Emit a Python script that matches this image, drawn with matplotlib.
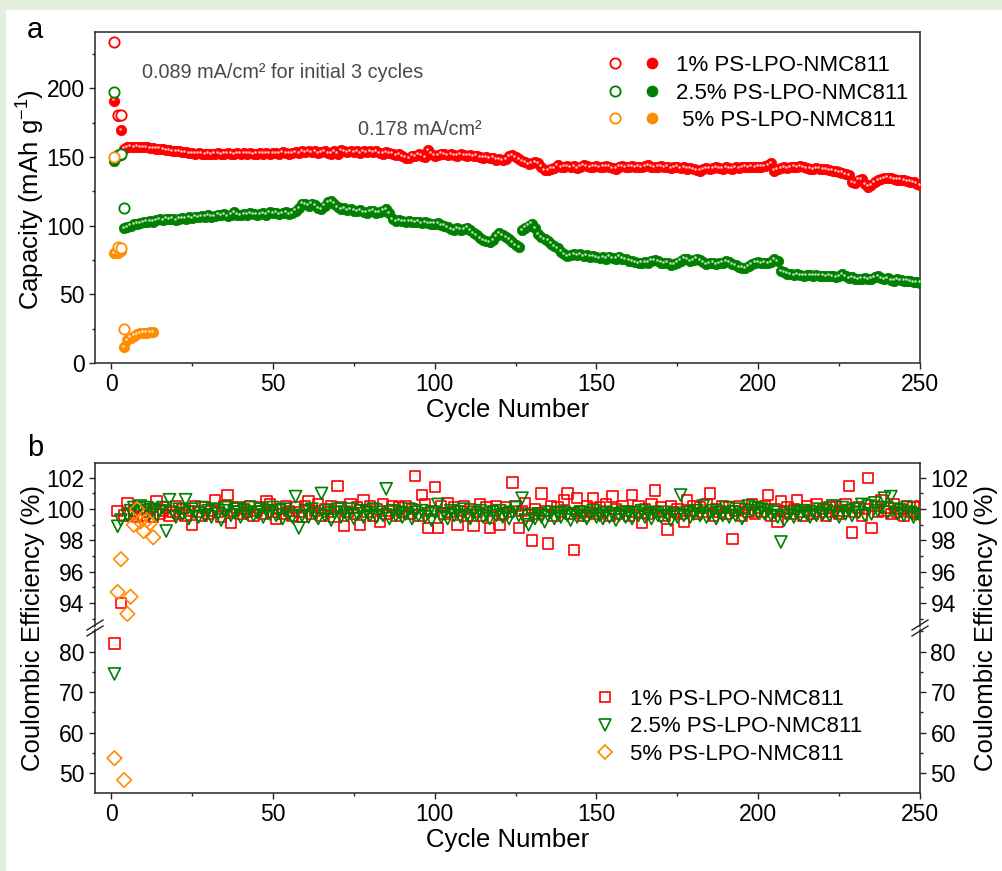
import numpy as np
import matplotlib
matplotlib.use('Agg')
import matplotlib.pyplot as plt
from matplotlib.lines import Line2D
from matplotlib.patches import Rectangle, Polygon
from matplotlib.legend_handler import HandlerTuple
from matplotlib.ticker import MultipleLocator
from matplotlib.transforms import offset_copy

plt.rcParams['font.family'] = ['Liberation Sans', 'DejaVu Sans']
plt.rcParams['mathtext.fontset'] = 'custom'
plt.rcParams['mathtext.rm'] = 'Liberation Sans'
plt.rcParams['mathtext.default'] = 'regular'

labels = ['1% PS-LPO-NMC811', '2.5% PS-LPO-NMC811', ' 5% PS-LPO-NMC811']
colors = ['#ff0000', '#008000', '#ff8c00']

# ---- capacity (mAh/g) ----
# charge (open circles) only for the first cycles, later ones sit under the discharge points
red_charge = [234, 180.5, 180.5]
green_charge = [197, 151.5, 152, 113]
orange_charge = [150, 84.5, 84, 24.5]

red_discharge = [
    191, 180, 169.5, 156, 157, 157.5, 157, 157.5, 157, 157,
    157, 156.5, 156.5, 156, 156, 155.5, 155, 155, 154.5, 154,
    154, 153.5, 153.5, 153, 153, 152.5, 153, 152.5, 152, 152.5,
    152, 152.5, 153, 152, 152.5, 153, 152.5, 152, 153, 152.5,
    153, 152.5, 153, 152, 152.5, 153, 152.5, 153, 152.5, 153,
    153, 152.5, 153.5, 153, 152.5, 153, 153.5, 153, 154, 153.5,
    154.5, 153.5, 154, 153, 153.5, 154, 153, 152.5, 154, 152.5,
    155, 154, 153.5, 154.5, 153.5, 154, 153, 154, 153.5, 154,
    153.5, 154, 153, 152.5, 153.5, 153, 152.5, 151.5, 152, 150.5,
    149.5, 149, 151, 150.5, 152, 151, 150, 155, 152.5, 151,
    151.5, 152.5, 152, 151.5, 152, 151.5, 151, 152, 151.5, 151,
    151.5, 150.5, 151, 150, 149.5, 150, 149, 149.5, 148, 148.5,
    147.5, 148.5, 150.5, 151.5, 150, 148.5, 147, 146, 145, 145.5,
    146, 145.5, 143, 140.5, 140.5, 141.5, 142, 144, 142.5, 143,
    143.5, 142.5, 143.5, 142, 143, 144, 143.5, 142.5, 143, 143.5,
    142.5, 143, 143.5, 143, 142, 141.5, 143, 143.5, 142.5, 143,
    143.5, 142.5, 143, 142.5, 143.5, 144, 143, 142.5, 143, 143.5,
    142.5, 143, 142, 142.5, 143, 142, 142.5, 141.5, 142, 141,
    140.5, 140, 141, 142, 141.5, 142, 142.5, 142, 141.5, 142.5,
    142, 141.5, 142.5, 142, 142.5, 143, 142.5, 143, 142.5, 143,
    143, 143.5, 144, 145.5, 140, 141, 142, 142.5, 142, 142.5,
    143, 142.5, 143.5, 142.5, 142, 141.5, 141, 142, 141.5, 141,
    141, 140.5, 140, 139.5, 139, 138.5, 137.5, 137, 131.5, 131,
    133.5, 134, 130, 128.5, 129.5, 131.5, 133, 134, 134.5, 135,
    134.5, 134, 133.5, 133.5, 133, 132.5, 132, 131.5, 130.5, 129.5,
]

green_discharge = [
    147, 151, 151.5, 98, 99, 100, 101, 101.5, 102, 102.5,
    103, 103.5, 103, 104, 104.5, 104, 105, 104.5, 105, 104,
    105, 105.5, 105, 106, 105.5, 106.5, 106, 107, 106.5, 107.5,
    106.5, 107, 108, 107.5, 108.5, 107, 108, 110, 108, 107.5,
    108.5, 108, 109, 108.5, 108, 108.5, 109, 108, 110, 109,
    109.5, 108.5, 109, 110, 108.5, 109, 111, 113, 116, 115.5,
    114.5, 116, 115, 113, 112, 114.5, 117, 118, 116, 113.5,
    112, 112.5, 111.5, 112, 111, 110.5, 111.5, 110, 109.5, 110.5,
    111, 109.5, 110, 111, 112, 109, 104.5, 103.5, 104, 103.5,
    103, 103.5, 103, 102.5, 103, 102, 102.5, 102, 101.5, 101.5,
    102, 100.5, 100, 99, 97.5, 96.5, 98, 97, 97.5, 98.5,
    96.5, 94.5, 93, 91, 89.5, 88.5, 88, 89.5, 92.5, 94.5,
    93, 91.5, 90, 88, 86, 84.5, 96.5, 98.5, 100, 101.5,
    98, 94, 91.5, 90, 89, 87, 85, 83.5, 81, 79,
    78, 78.5, 79.5, 78.5, 79, 78, 78.5, 77.5, 78, 77,
    76.5, 77, 76, 77.5, 76.5, 76, 77.5, 76, 75.5, 74.5,
    74, 73.5, 72.5, 73, 73.5, 73, 74.5, 75, 74, 73,
    72.5, 73, 71.5, 72, 73, 74.5, 76, 75.5, 74, 75,
    76, 75, 73.5, 72, 72.5, 73, 72, 72.5, 73, 74,
    73.5, 72, 71, 70, 69.5, 69, 70.5, 72, 73, 73.5,
    72.5, 73, 72.5, 73.5, 75.5, 74, 67, 66, 65, 64.5,
    64, 64.5, 64, 63.5, 64, 64, 63.5, 64, 63.5, 63.5,
    63, 63.5, 63, 62.5, 63, 64.5, 63, 62, 62.5, 61.5,
    61, 61.5, 62, 61, 61.5, 62.5, 63, 62, 61, 62,
    60.5, 60, 61, 60.5, 60, 60, 59.5, 59, 59, 58.5,
]

orange_discharge = [80, 80, 81.5, 11.5, 16.5, 18.5, 20, 21, 21.5, 22, 22, 22.5, 22.5]

# ---- coulombic efficiency (%) ----
red_ce = [
    82.0, 99.9, 94.0, 99.6, 100.4, 99.7, 99.9, 99.5, 100.1, 99.6,
    99.8, 100.0, 99.5, 100.5, 99.7, 99.9, 100.1, 99.6, 99.8, 100.2,
    99.7, 100.0, 99.6, 99.9, 99.0, 100.2, 99.8, 99.6, 100.1, 99.7,
    99.9, 100.6, 99.8, 99.5, 100.2, 100.9, 99.1, 99.9, 100.1, 99.7,
    100.0, 99.8, 100.2, 99.6, 99.9, 100.1, 99.7, 100.5, 100.3, 99.8,
    99.4, 100.0, 99.7, 100.2, 99.9, 99.6, 100.1, 99.8, 99.5, 100.2,
    100.5, 99.7, 99.9, 100.3, 99.6, 100.0, 99.8, 100.2, 99.5, 101.5,
    100.1, 98.9, 99.8, 100.3, 99.7, 100.1, 99.0, 100.6, 99.8, 100.2,
    99.6, 100.0, 99.2, 100.3, 99.7, 99.9, 100.2, 99.6, 100.1, 99.8,
    100.2, 99.7, 100.0, 102.1, 99.6, 100.9, 100.3, 98.8, 99.9, 101.4,
    98.8, 100.2, 99.7, 100.4, 99.8, 100.1, 99.0, 99.9, 100.2, 99.6,
    100.0, 98.9, 99.8, 100.3, 99.6, 100.1, 98.8, 99.9, 100.2, 99.0,
    99.7, 100.1, 99.8, 101.7, 100.2, 98.8, 99.9, 100.4, 99.6, 98.0,
    100.0, 99.7, 101.0, 99.9, 97.8, 100.2, 99.6, 100.1, 99.8, 100.6,
    101.0, 99.7, 97.4, 100.7, 99.9, 99.6, 100.2, 99.8, 100.7, 99.7,
    100.1, 99.8, 100.3, 99.6, 100.8, 100.0, 99.7, 100.2, 99.9, 99.6,
    100.9, 99.8, 100.2, 99.1, 100.0, 99.7, 100.3, 101.2, 99.8, 100.1,
    99.6, 98.7, 100.2, 99.8, 100.0, 99.7, 99.2, 100.6, 99.9, 100.2,
    99.7, 100.1, 99.8, 100.3, 101.0, 99.6, 100.0, 99.8, 100.2, 99.7,
    100.1, 98.1, 99.9, 100.2, 99.6, 100.0, 99.8, 100.3, 99.7, 100.1,
    99.8, 100.2, 100.9, 99.6, 100.0, 99.2, 100.5, 99.8, 100.1, 99.7,
    100.0, 100.6, 99.8, 99.6, 100.2, 99.9, 99.7, 100.3, 99.8, 100.0,
    99.6, 100.1, 99.8, 100.2, 99.7, 99.9, 100.3, 101.5, 98.5, 99.8,
    100.1, 99.6, 100.0, 102.0, 98.8, 100.2, 99.8, 100.6, 99.9, 100.1,
    99.7, 100.3, 99.8, 100.0, 99.6, 100.2, 99.8, 100.1, 99.7, 100.2,
]

# cycle 4 of the 2.5% cell falls inside the axis break and is not shown
green_ce = [
    74.5, 98.9, 99.3, np.nan, 99.6, 99.9, 100.1, 99.8, 100.2, 99.9,
    100.1, 99.7, 100.0, 99.6, 99.9, 100.1, 98.6, 100.6, 99.8, 99.5,
    100.0, 99.7, 100.6, 99.4, 100.0, 99.8, 99.5, 100.1, 99.6, 99.9,
    99.5, 100.0, 99.7, 99.3, 99.9, 100.1, 99.6, 99.8, 100.0, 99.5,
    99.9, 99.7, 100.1, 99.6, 99.8, 100.0, 99.5, 99.9, 99.7, 100.1,
    99.6, 99.9, 99.4, 100.0, 99.7, 99.5, 100.8, 98.8, 99.6, 99.9,
    99.5, 100.0, 99.7, 99.4, 101.0, 99.6, 99.9, 99.3, 99.8, 100.0,
    99.5, 99.8, 99.6, 100.0, 99.4, 99.7, 99.9, 99.5, 99.8, 99.6,
    100.0, 99.5, 99.8, 99.6, 101.3, 99.4, 99.9, 99.6, 99.8, 99.5,
    99.7, 100.0, 99.4, 99.8, 99.6, 99.9, 99.5, 99.7, 99.3, 99.8,
    100.3, 99.5, 99.7, 99.4, 99.9, 99.6, 99.8, 99.5, 100.0, 99.6,
    99.4, 99.8, 99.6, 99.9, 99.5, 99.7, 99.4, 99.8, 99.6, 99.9,
    99.5, 99.7, 99.4, 99.8, 100.1, 99.6, 100.7, 99.3, 99.0, 99.6,
    99.4, 99.7, 99.5, 99.2, 99.6, 99.8, 99.4, 99.7, 99.5, 99.8,
    99.6, 99.3, 99.7, 99.5, 99.8, 99.6, 99.4, 99.7, 99.9, 99.5,
    99.6, 99.4, 99.8, 99.5, 99.7, 99.3, 99.6, 99.8, 99.5, 99.7,
    99.4, 99.8, 99.6, 99.9, 99.5, 99.7, 99.4, 99.8, 99.6, 99.5,
    99.8, 99.6, 99.3, 99.7, 99.5, 100.9, 99.6, 99.8, 99.5, 99.7,
    99.9, 99.6, 100.2, 99.5, 99.7, 99.9, 99.4, 99.8, 99.6, 100.1,
    99.5, 99.8, 99.6, 100.0, 99.4, 99.7, 100.2, 99.9, 100.1, 99.8,
    100.0, 99.7, 99.9, 99.6, 99.8, 99.5, 97.9, 99.3, 99.6, 99.8,
    99.5, 99.8, 99.6, 99.9, 99.7, 99.5, 99.8, 99.6, 100.0, 99.7,
    99.9, 99.6, 100.2, 99.8, 99.5, 100.1, 99.7, 99.9, 99.6, 100.0,
    99.8, 100.3, 99.6, 100.2, 99.7, 100.4, 99.9, 100.1, 100.7, 99.8,
    100.8, 100.0, 99.7, 99.9, 99.6, 100.1, 99.8, 99.5, 99.7, 99.6,
]

orange_ce = [53.7, 94.7, 96.8, 48.3, 93.3, 94.4, 99.0, 100.0, 99.2, 98.6, 99.3, 99.1, 98.2]

W, H = 1003, 871
fig = plt.figure(figsize=(W / 100, H / 100), dpi=100)
fig.patch.set_facecolor('#e2efda')
fig.add_artist(Rectangle((6 / W, 0), 1, 1 - 10 / H, transform=fig.transFigure,
                         facecolor='white', edgecolor='none', zorder=-5))

TICK = 16.5
LABEL = 18.5
SPINE = '#262626'


def style_axis(ax):
    for s in ax.spines.values():
        s.set_linewidth(1.1)
        s.set_color(SPINE)
    ax.tick_params(which='major', direction='out', length=4.5, width=1.0,
                   labelsize=TICK, color=SPINE, pad=3)
    ax.tick_params(which='minor', direction='out', length=2.5, width=1.0, color=SPINE)


def cyc(vals):
    return np.arange(1, len(vals) + 1)


# ================= panel a =================
ax = fig.add_axes([95 / W, 1 - 363 / H, 825 / W, 331 / H])
style_axis(ax)

dis_sets = [red_discharge, green_discharge, orange_discharge]
chg_sets = [red_charge, green_charge, orange_charge]
shine = offset_copy(ax.transData, fig=fig, x=-1.3, y=1.3, units='dots')
for order, i in enumerate([1, 0, 2]):
    d = dis_sets[i]
    ax.scatter(cyc(d), d, s=55, color=colors[i], edgecolors=colors[i],
               linewidths=0.6, zorder=3 + order)
    ax.scatter(cyc(d), d, s=3.5, color='white', alpha=0.75, linewidths=0,
               transform=shine, zorder=3 + order)
    c = chg_sets[i]
    ax.scatter(cyc(c), c, s=55, facecolors='white', edgecolors=colors[i],
               linewidths=1.3, zorder=6 + order)

ax.set_xlim(-5, 250)
ax.set_ylim(0, 241)
ax.xaxis.set_major_locator(MultipleLocator(50))
ax.xaxis.set_minor_locator(MultipleLocator(25))
ax.yaxis.set_major_locator(MultipleLocator(50))
ax.yaxis.set_minor_locator(MultipleLocator(25))
ax.set_xlabel('Cycle Number', fontsize=LABEL, labelpad=1)
fig.text(31 / W, 1 - 200 / H, 'Capacity (mAh g$^{-1}$)', rotation=90,
         fontsize=LABEL, va='center', ha='center')

ax.text(0.057, 0.879, '0.089 mA/cm\u00b2 for initial 3 cycles', transform=ax.transAxes,
        fontsize=14.3, color='#4a4a4a', va='center')
ax.text(0.319, 0.704, '0.178 mA/cm\u00b2', transform=ax.transAxes,
        fontsize=14.3, color='#4a4a4a', va='center')

handles = []
for c in colors:
    h_open = Line2D([], [], ls='none', marker='o', ms=7.4, mfc='white', mec=c, mew=1.3)
    h_fill = Line2D([], [], ls='none', marker='o', ms=7.4, mfc=c, mec=c)
    handles.append((h_open, h_fill))
ax.legend(handles, labels, handler_map={tuple: HandlerTuple(ndivide=None, pad=1.0)},
          frameon=False, loc='upper right', bbox_to_anchor=(1.005, 0.978),
          fontsize=16, handlelength=2.25, handletextpad=0.8, labelspacing=0.3,
          borderaxespad=0.3)

fig.text(27 / W, 1 - 30 / H, 'a', fontsize=21, va='center', ha='left')

# ================= panel b (broken y axis) =================
ax_up = fig.add_axes([95 / W, 1 - 628 / H, 825 / W, 165 / H])
ax_lo = fig.add_axes([95 / W, 1 - 793 / H, 825 / W, 165 / H], sharex=ax_up)
for a in (ax_up, ax_lo):
    style_axis(a)
    a.tick_params(axis='y', which='both', left=True, right=True,
                  labelleft=True, labelright=True)

ax_up.spines['bottom'].set_visible(False)
ax_lo.spines['top'].set_visible(False)
ax_up.tick_params(axis='x', which='both', bottom=False, labelbottom=False)
ax_lo.tick_params(axis='x', which='both', top=False)

ce_sets = [red_ce, green_ce, orange_ce]
mk = [('s', 55), ('v', 75), ('D', 55)]
for a in (ax_up, ax_lo):
    for i in range(3):
        a.scatter(cyc(ce_sets[i]), ce_sets[i], marker=mk[i][0], s=mk[i][1],
                  facecolors='none', edgecolors=colors[i], linewidths=1.2,
                  zorder=3 + i)

ax_up.set_ylim(92.4, 102.95)
ax_up.yaxis.set_major_locator(MultipleLocator(2))
ax_up.yaxis.set_minor_locator(MultipleLocator(1))
ax_lo.set_ylim(45.1, 85.85)
ax_lo.yaxis.set_major_locator(MultipleLocator(10))
ax_lo.yaxis.set_minor_locator(MultipleLocator(5))
ax_lo.set_xlim(-5, 250)
ax_lo.xaxis.set_major_locator(MultipleLocator(50))
ax_lo.xaxis.set_minor_locator(MultipleLocator(25))
ax_lo.set_xlabel('Cycle Number', fontsize=LABEL, labelpad=1)

# break marks "//" on both spines
for xb in (95, 920):
    yb = H - 628
    fig.add_artist(Polygon([((xb - 3) / W, (yb - 2.5) / H), ((xb + 3) / W, (yb + 1.2) / H),
                            ((xb + 3) / W, (yb + 2.5) / H), ((xb - 3) / W, (yb - 1.2) / H)],
                           closed=True, transform=fig.transFigure, facecolor='white',
                           edgecolor='none', zorder=9))
    for dy in (-3, 3):
        fig.add_artist(Line2D([(xb - 8) / W, (xb + 8) / W],
                              [(yb + dy - 5) / H, (yb + dy + 5) / H],
                              transform=fig.transFigure, color=SPINE, lw=1.0, zorder=10))

ax_lo.legend([Line2D([], [], ls='none', marker=mk[i][0], ms=7.2 if i != 1 else 8.8,
                     mfc='none', mec=colors[i], mew=1.2) for i in range(3)],
             [l.strip() for l in labels], frameon=False, loc='center left',
             bbox_to_anchor=(0.58, 0.40), fontsize=16, handlelength=1.0,
             handletextpad=0.65, labelspacing=0.3)

fig.text(33 / W, 1 - 628 / H, 'Coulombic Efficiency (%)', rotation=90,
         fontsize=LABEL, va='center', ha='center')
fig.text(986 / W, 1 - 628 / H, 'Coulombic Efficiency (%)', rotation=90,
         fontsize=LABEL, va='center', ha='center')
fig.text(27 / W, 1 - 448 / H, 'b', fontsize=21, va='center', ha='left')

fig.savefig('out.png', dpi=100, facecolor=fig.get_facecolor())
